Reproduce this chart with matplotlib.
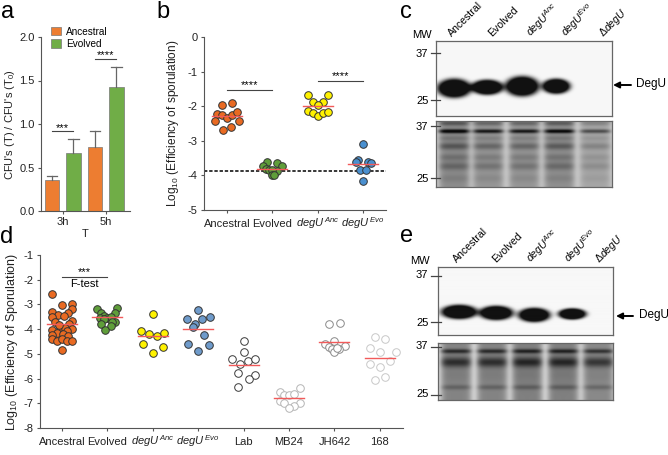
import numpy as np
import matplotlib
matplotlib.use('Agg')
import matplotlib.pyplot as plt
from matplotlib.patches import Patch, FancyArrowPatch

plt.rcParams['font.family'] = ['Liberation Sans', 'DejaVu Sans']
plt.rcParams['mathtext.fontset'] = 'custom'
plt.rcParams['mathtext.rm'] = 'Liberation Sans'
plt.rcParams['mathtext.it'] = 'Liberation Sans:italic'
plt.rcParams['axes.unicode_minus'] = False

W, H = 668, 455

# panel a
bar_values = [0.36, 0.67, 0.73, 1.43]
bar_tops = [0.40, 0.83, 0.92, 1.66]

# panel b : value, x offset inside the category
b_anc = [-1.97, -1.90, -2.23, -2.26, -2.35, -2.24, -2.16, -2.44, -2.43, -2.69, -2.59]
b_anc_x = [-0.12, 0.11, -0.22, -0.11, 0, 0.10, 0.22, -0.26, 0.26, -0.09, 0.09]
b_evo = [-3.61, -3.64, -3.72, -3.74, -3.82, -3.86, -3.85, -3.85, -4.0, -4.0]
b_evo_x = [-0.12, 0.11, -0.21, 0.21, -0.14, 0.11, -0.08, 0.0, -0.01, 0.04]
b_yel = [-1.67, -1.67, -1.88, -1.87, -1.97, -2.13, -2.20, -2.28, -2.19, -2.16]
b_yel_x = [-0.22, 0.22, -0.10, 0.11, 0, -0.21, -0.10, 0, 0.11, 0.22]
b_blu = [-3.10, -3.55, -3.62, -3.61, -3.65, -3.83, -3.83, -4.17]
b_blu_x = [0, -0.11, -0.16, 0.12, 0.17, -0.06, 0.06, 0]
b_means = [-2.28, -3.82, -1.99, -3.67]

# panel d
d_anc = [-2.59, -3.01, -2.98, -3.19, -3.32, -3.35, -3.43, -3.45, -3.52, -3.67, -3.72, -3.81, -3.90, -3.94,
         -3.99, -4.05, -4.08, -4.17, -4.20, -4.24, -4.26, -4.41, -4.47, -4.40, -4.49, -4.47, -4.83, -3.85]
d_anc_x = [-0.22, 0, 0.22, 0.21, -0.22, 0.13, -0.08, 0.04, -0.21, 0.21, -0.15, 0.15, -0.04, 0.07,
           0.21, -0.22, 0.12, -0.11, 0.02, -0.21, 0.13, -0.22, -0.11, 0, 0.11, 0.22, 0, -0.07]
d_evo = [-3.20, -3.16, -3.36, -3.36, -3.45, -3.54, -3.50, -3.56, -3.60, -3.70, -3.72, -3.78, -3.86, -4.05]
d_evo_x = [-0.22, 0.22, -0.15, 0.16, -0.08, 0, 0.07, -0.17, -0.08, 0.17, 0.09, -0.15, 0.07, -0.05]
d_yel = [-3.40, -4.08, -4.21, -4.28, -4.16, -4.60, -4.72, -4.95]
d_yel_x = [0, -0.25, -0.09, 0.09, 0.25, -0.22, 0.22, 0]
d_blu = [-3.24, -3.58, -3.52, -3.59, -3.79, -3.91, -4.25, -4.60, -4.66, -4.90]
d_blu_x = [0, -0.25, 0.26, 0.08, -0.08, -0.12, 0.12, -0.22, 0.23, 0]
d_lab = [-4.49, -4.94, -5.21, -5.40, -5.29, -5.19, -5.79, -5.84, -6.00, -6.33]
d_lab_x = [0, 0, -0.26, -0.09, 0.09, 0.26, -0.12, 0.24, 0.12, -0.12]
d_mb = [-6.53, -6.40, -6.66, -6.66, -6.62, -6.91, -6.98, -6.99, -7.11, -7.20]
d_mb_x = [-0.21, 0.24, -0.10, 0, 0.12, -0.21, 0.24, -0.10, 0.12, 0]
d_jh = [-3.78, -3.74, -4.47, -4.60, -4.67, -4.71, -4.80, -4.82, -4.92, -4.78]
d_jh_x = [-0.11, 0.12, 0, -0.21, 0.23, -0.11, 0.11, -0.05, 0, 0.05]
d_168 = [-4.33, -4.41, -4.75, -4.94, -4.93, -5.30, -5.40, -5.53, -5.94, -6.06]
d_168_x = [-0.10, 0.12, -0.21, 0.01, 0.35, 0.23, -0.21, 0.01, 0.12, -0.10]
d_means = [-3.81, -3.52, -4.29, -4.01, -5.46, -6.80, -4.53, -5.15]

anc_sup = r'$\it{degU}^{\,\it{Anc}}$'
evo_sup = r'$\it{degU}^{\,\it{Evo}}$'
b_labels = ['Ancestral', 'Evolved', anc_sup, evo_sup]
d_labels = b_labels + ['Lab', 'MB24', 'JH642', '168']

# blots
c_bands = [(454, 88, 17, 9.5), (487, 87, 16, 7.5), (522, 86, 17, 10), (556, 86, 14, 7.5)]
e_bands = [(459, 312, 18, 7), (496, 313, 17, 7), (534, 315, 16, 7), (572, 314, 14, 5.5)]
c_lanes = [454, 488, 524, 559, 595]
c_lane_amp = [1.0, 0.85, 0.85, 0.95, 0.6]
c_gel_y = [123, 131, 138, 146, 157, 166, 178]
c_gel_amp = [0.22, 0.60, 0.10, 0.22, 0.12, 0.16, 0.06]
c_gel_w = [2.5, 2.0, 2.5, 3.5, 3.5, 4.0, 4.0]
e_lanes = [456, 492, 527, 563, 598]
e_lane_amp = [0.95, 0.95, 1.0, 1.0, 0.9]
e_gel_y = [351, 362, 375, 387]
e_gel_amp = [0.38, 0.36, 0.03, 0.14]
e_gel_w = [2.2, 5.0, 6.0, 2.5]

ORANGE = '#ED7D31'
GREEN = '#70AD47'
AXC = '#555555'

fig = plt.figure(figsize=(W / 100, H / 100), dpi=100)


def px_axes(x0, y0, x1, y1):
    return fig.add_axes([x0 / W, 1 - y1 / H, (x1 - x0) / W, (y1 - y0) / H])


def style(ax):
    ax.spines['top'].set_visible(False)
    ax.spines['right'].set_visible(False)
    ax.spines['left'].set_color(AXC)
    ax.spines['bottom'].set_color(AXC)
    ax.tick_params(labelcolor='#222222', labelsize=8, length=2.5, width=0.8, color=AXC, pad=2)


def baseline_labels(ax):
    ax.tick_params(axis='x', pad=9.5)
    for lab in ax.get_xticklabels():
        lab.set_verticalalignment('baseline')


def ftext(x, y, s, **kw):
    kw.setdefault('ha', 'left')
    kw.setdefault('va', 'center')
    fig.text(x / W, 1 - y / H, s, **kw)


def swarm(ax, pos, vals, off, face, edge='#333333'):
    ax.scatter(pos + np.array(off), vals, s=30, c=face, edgecolors=edge, linewidths=0.7, zorder=3, clip_on=False)


# a
ax = px_axes(41, 37, 130, 211)
style(ax)
bar_x = np.arange(4)
cols = [ORANGE, GREEN, ORANGE, GREEN]
ax.bar(bar_x, bar_values, width=0.67, color=cols, edgecolor='#777777', linewidth=0.5)
for x, v, t in zip(bar_x, bar_values, bar_tops):
    ax.plot([x, x], [v, t], color='#666666', lw=0.9)
    ax.plot([x - 0.25, x + 0.25], [t, t], color='#666666', lw=0.9)
ax.set_xlim(-0.51, 3.63)
ax.set_ylim(0, 2)
ax.set_yticks([0, 0.5, 1, 1.5, 2])
ax.set_yticklabels(['0.0', '0.5', '1.0', '1.5', '2.0'])
ax.set_xticks([0.5, 2.5])
ax.set_xticklabels(['3h', '5h'])
ax.set_xlabel('T', fontsize=8, labelpad=1, color='#222222')
ax.set_ylabel("CFU's (T) / CFU's (T$_0$)", fontsize=8, labelpad=2, color='#222222')
ax.plot([0, 1], [0.92, 0.92], color='#444444', lw=0.8)
ax.plot([2, 3], [1.75, 1.75], color='#444444', lw=0.8)
ax.text(0.5, 0.90, '***', ha='center', va='bottom', fontsize=8)
ax.text(2.5, 1.73, '****', ha='center', va='bottom', fontsize=8)
ax.legend(handles=[Patch(fc=ORANGE, ec='#777777', lw=0.5, label='Ancestral'),
                   Patch(fc=GREEN, ec='#777777', lw=0.5, label='Evolved')],
          loc='upper left', bbox_to_anchor=(0.115, 1.06), frameon=False, fontsize=7.2,
          handlelength=0.95, handleheight=0.95, handletextpad=0.55, labelspacing=0.22, borderpad=0, borderaxespad=0)

# b
ax = px_axes(204, 37, 386, 210)
style(ax)
swarm(ax, 0, b_anc, b_anc_x, '#E96A22')
swarm(ax, 1, b_evo, b_evo_x, '#5F9E3A')
swarm(ax, 2, b_yel, b_yel_x, '#FFF200')
swarm(ax, 3, b_blu, b_blu_x, '#4A90D0')
for i, m in enumerate(b_means):
    ax.plot([i - 0.33, i + 0.33], [m, m], color='#F25A5A', lw=1, zorder=4)
ax.axhline(-3.86, color='black', lw=1.1, ls=(0, (2.2, 1.2)), zorder=2)
ax.plot([0, 1], [-1.53, -1.53], color='#444444', lw=0.8)
ax.plot([2, 3], [-1.26, -1.26], color='#444444', lw=0.8)
ax.text(0.5, -1.53, '****', ha='center', va='bottom', fontsize=8)
ax.text(2.5, -1.26, '****', ha='center', va='bottom', fontsize=8)
ax.set_xlim(-0.51, 3.51)
ax.set_ylim(-5, 0)
ax.set_yticks([0, -1, -2, -3, -4, -5])
ax.set_xticks(range(4))
ax.set_xticklabels(b_labels)
baseline_labels(ax)
ax.set_ylabel(r'Log$_{10}$ (Efficiency of sporulation)', fontsize=8.6, labelpad=5, color='#222222')

# d
ax = px_axes(40, 255, 403, 428)
style(ax)
swarm(ax, 0, d_anc, d_anc_x, '#E96A22')
swarm(ax, 1, d_evo, d_evo_x, '#5F9E3A')
swarm(ax, 2, d_yel, d_yel_x, '#FFF200')
swarm(ax, 3, d_blu, d_blu_x, '#6F9BCB')
swarm(ax, 4, d_lab, d_lab_x, 'white', '#3A3A3A')
swarm(ax, 5, d_mb, d_mb_x, 'white', '#B5B5B5')
swarm(ax, 6, d_jh, d_jh_x, 'white', '#8A8A8A')
swarm(ax, 7, d_168, d_168_x, 'white', '#C8C8C8')
for i, m in enumerate(d_means):
    ax.plot([i - 0.33, i + 0.33], [m, m], color='#F25A5A', lw=1, zorder=4)
ax.plot([0, 1], [-1.89, -1.89], color='#444444', lw=0.8)
ax.text(0.5, -1.89, '***', ha='center', va='bottom', fontsize=8)
ax.text(0.5, -1.96, 'F-test', ha='center', va='top', fontsize=8)
ax.set_xlim(-0.485, 7.51)
ax.set_ylim(-8, -1)
ax.set_yticks(range(-8, 0))
ax.set_xticks(range(8))
ax.set_xticklabels(d_labels)
baseline_labels(ax)
ax.set_ylabel(r'Log$_{10}$ (Efficiency of Sporulation)', fontsize=9, labelpad=3, color='#222222')


def frame(ax):
    ax.set_xticks([])
    ax.set_yticks([])
    for s in ax.spines.values():
        s.set_color('#666666')
        s.set_linewidth(0.9)


def blot_upper(x0, y0, x1, y1, bands):
    xx, yy = np.meshgrid(np.arange(x0, x1, 0.5), np.arange(y0, y1, 0.5))
    img = np.full(xx.shape, 0.97)
    for cx, cy, hw, hh in bands:
        r2 = ((xx - cx) / hw) ** 2 + ((yy - cy) / hh) ** 2
        img -= 1.4 * np.exp(-r2 ** 2.2)
    ax = px_axes(x0, y0, x1, y1)
    ax.imshow(np.clip(img, 0.07, 1), cmap='gray', vmin=0, vmax=1, extent=[x0, x1, y1, y0], aspect='auto',
              interpolation='bilinear')
    frame(ax)


def blot_lower(x0, y0, x1, y1, lanes, lane_amp, ys, amps, widths, bg, smear_base):
    xx, yy = np.meshgrid(np.arange(x0, x1, 0.5), np.arange(y0, y1, 0.5))
    img = np.full(xx.shape, bg)
    for cx, la in zip(lanes, lane_amp):
        lane = np.exp(-((xx - cx) / 15.5) ** 6)
        smear = smear_base * np.ones(xx.shape)
        for by, ba, bw in zip(ys, amps, widths):
            smear += ba * np.exp(-((yy - by) / bw) ** 2)
        img -= la * lane * smear
    ax = px_axes(x0, y0, x1, y1)
    ax.imshow(np.clip(img, 0.04, 1), cmap='gray', vmin=0, vmax=1, extent=[x0, x1, y1, y0], aspect='auto',
              interpolation='bilinear')
    frame(ax)


blot_upper(436, 41, 612, 116, c_bands)
blot_lower(436, 121, 612, 187, c_lanes, c_lane_amp, c_gel_y, c_gel_amp, c_gel_w, 0.80, 0.25)
blot_upper(438, 267, 613, 335, e_bands)
blot_lower(438, 343, 613, 400, e_lanes, e_lane_amp, e_gel_y, e_gel_amp, e_gel_w, 0.86, 0.36)

# blot texts
blot_names = ['Ancestral', 'Evolved', r'$\it{degU}^{\it{Anc}}$', r'$\it{degU}^{\it{Evo}}$', r'$\Delta\it{degU}$']
for x, s in zip([452, 492, 531, 566, 603], blot_names):
    ftext(x, 37, s, rotation=45, rotation_mode='anchor', va='baseline', fontsize=7.6)
for x, s in zip([457, 496, 531, 569, 599], blot_names):
    ftext(x, 263, s, rotation=45, rotation_mode='anchor', va='baseline', fontsize=7.6)

for x, y, s in [(412, 35, 'MW'), (416, 54, '37'), (416, 101, '25'), (416, 127, '37'), (416, 179, '25'),
                (410, 261, 'MW'), (416, 275, '37'), (416, 323, '25'), (416, 346, '37'), (416, 394, '25')]:
    ftext(x, y, s, fontsize=8)
for y, x0, x1 in [(53, 431, 440), (100, 431, 440), (126, 431, 440), (178, 431, 440),
                  (276, 431, 441), (322, 431, 441), (347, 431, 441), (395, 431, 441)]:
    fig.add_artist(plt.Line2D([x0 / W, x1 / W], [1 - y / H, 1 - y / H], color='#444444', lw=0.9))

for x0, x1, y, tx in [(631, 613, 85, 636), (633, 616, 316, 639)]:
    fig.add_artist(FancyArrowPatch((x0 / W, 1 - y / H), (x1 / W, 1 - y / H), transform=fig.transFigure,
                                   arrowstyle='-|>', mutation_scale=9, color='black', lw=1.4, shrinkA=0, shrinkB=0))
    ftext(tx, y - 1, 'DegU', fontsize=8.5)

# panel letters
for x, y, s in [(1, 12, 'a'), (156, 12, 'b'), (400, 12, 'c'), (0, 237, 'd'), (400, 236, 'e')]:
    ftext(x, y, s, fontsize=17)

fig.savefig('out.png', dpi=100)
